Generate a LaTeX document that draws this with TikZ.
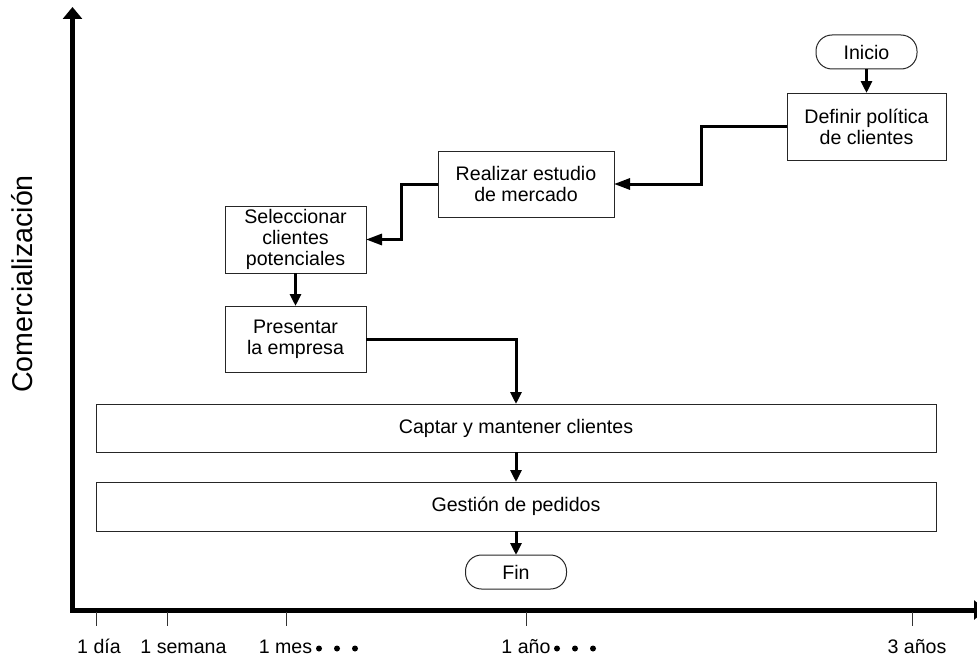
\documentclass[tikz,border=0pt]{standalone}
\usepackage{fontspec}
\setmainfont{Liberation Sans}
\usetikzlibrary{arrows.meta}
\begin{document}
\begin{tikzpicture}[x=1pt,y=-1pt,
  every node/.style={inner sep=0pt, outer sep=0pt},
  txt/.style={font=\fontsize{19.6}{21}\selectfont},
  box/.style={txt, draw=black!85, line width=1pt, fill=white, align=center},
  term/.style={box, rounded corners=16pt},
  connv/.style={line width=3pt, -{Triangle[length=12pt,width=11pt]}},
  connh/.style={line width=3pt, line join=miter, -{Triangle[length=16pt,width=11pt]}},
  axis/.style={line width=5pt, line join=miter,
    {Triangle[length=12pt,width=19pt]}-{Triangle[length=12pt,width=19pt]}},
  tickmark/.style={line width=1pt, draw=black!80},
  ticklabel/.style={txt, anchor=base},
  dot/.style={fill=black},
]
\useasboundingbox (0,0) rectangle (977,661);

% axes
\draw[axis] (72.5,7) -- (72.5,610) -- (986,610);
\node[rotate=90, font=\fontsize{28.6}{30}\selectfont] (ylabel) at (22.5,284) {Comercialización};

% time scale
\foreach \x in {96,167,286,526,912}
  \draw[tickmark] (\x,612) -- (\x,626);
\node[ticklabel] (tdia)    at (99,653)    {1 día};
\node[ticklabel] (tsemana) at (183.5,653) {1 semana};
\node[ticklabel] (tmes)    at (285.5,653) {1 mes};
\node[ticklabel] (tano)    at (526,653)   {1 año};
\node[ticklabel] (ttres)   at (917,653)   {3 años};
\foreach \x in {319,337,355,557,575,593}
  \fill[dot] (\x,648.5) circle (3);

% process steps
\node[term, minimum width=101pt, minimum height=34pt] (inicio) at (866.5,52) {Inicio};
\node[box, minimum width=159pt, minimum height=67pt] (definir) at (866.5,126.5) {Definir política\\de clientes};
\node[box, minimum width=176pt, minimum height=66pt] (realizar) at (526,184) {Realizar estudio\\de mercado};
\node[box, minimum width=141pt, minimum height=67pt] (selecc) at (295.5,239.5) {Seleccionar\\clientes\\potenciales};
\node[box, minimum width=141pt, minimum height=66pt] (presentar) at (295.5,339) {Presentar\\la empresa};
\node[box, minimum width=840pt, minimum height=48pt] (captar) at (516,428) {Captar y mantener clientes};
\node[box, minimum width=840pt, minimum height=49pt] (gestion) at (516,506.5) {Gestión de pedidos};
\node[term, minimum width=101pt, minimum height=34pt] (fin) at (516,572) {Fin};

% flow
\draw[connv] (inicio) -- (definir);
\draw[connh] (definir.west) -- ++(-86,0) |- (realizar.east);
\draw[connh] (realizar.west) -- ++(-37,0) |- (selecc.east);
\draw[connv] (selecc) -- (presentar);
\draw[connv] (presentar.east) -| (captar.north);
\draw[connv] (captar) -- (gestion);
\draw[connv] (gestion) -- (fin);
\end{tikzpicture}
\end{document}
